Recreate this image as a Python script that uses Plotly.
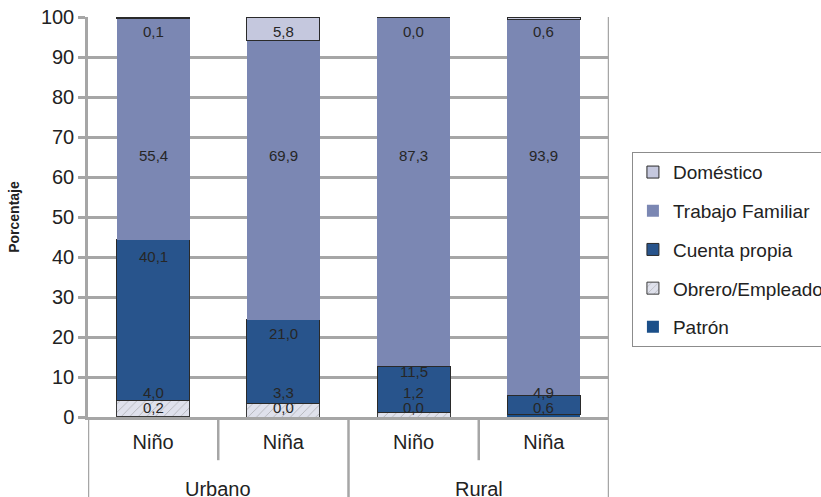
import plotly.graph_objects as go

# ---- data ----
sub_labels = ["Niño", "Niña", "Niño", "Niña"]
group_labels = ["Urbano", "Urbano", "Rural", "Rural"]
series_names = ["Patrón", "Obrero/Empleado", "Cuenta propia", "Trabajo Familiar", "Doméstico"]
patron = [0.2, 0.0, 0.0, 0.6]
obrero = [4.0, 3.3, 1.2, None]
cuenta_propia = [40.1, 21.0, 11.5, 4.9]
trabajo_familiar = [55.4, 69.9, 87.3, 93.9]
domestico = [0.1, 5.8, 0.0, 0.6]
y_ticks = [0, 10, 20, 30, 40, 50, 60, 70, 80, 90, 100]

values = [patron, obrero, cuenta_propia, trabajo_familiar, domestico]

# ---- styles ----
FONT = "Arial, Liberation Sans, sans-serif"
GRID = "#a6a6a6"
colors = ["#1b4f89", "#dfe1ec", "#28548c", "#7b87b3", "#c5c8de"]
outline = ["rgba(0,0,0,0)", "#3a3a3a", "#2a2a2a", "rgba(0,0,0,0)", "#2a2a2a"]
label_y_fixed = {"Patrón": 2.5, "Obrero/Empleado": 6.2, "Trabajo Familiar": 65.4, "Doméstico": 96.4}

xpos = list(range(len(sub_labels)))

fig = go.Figure()
for i, (name, vals) in enumerate(zip(series_names, values)):
    marker = dict(color=colors[i], line=dict(color=outline[i], width=1))
    if name == "Obrero/Empleado":
        marker["pattern"] = dict(shape="/", fgcolor="#8a8a8a", bgcolor=colors[i], size=6, solidity=0.15)
    fig.add_trace(go.Bar(
        x=xpos, y=vals, name=name, marker=marker, width=0.56,
        legendgroup=name, legendrank=len(series_names) - i, hoverinfo="skip",
    ))

# data labels
annotations = []
for name, vals in zip(series_names, values):
    for xi, v in zip(xpos, vals):
        if v is None:
            continue
        if name == "Cuenta propia":
            ly = max(v, label_y_fixed["Obrero/Empleado"])
        else:
            ly = label_y_fixed[name]
        annotations.append(dict(
            x=xi, y=ly, xref="x", yref="y", text=f"{v:.1f}".replace(".", ","),
            showarrow=False, font=dict(family=FONT, size=15, color="#262626"),
            xanchor="center", yanchor="middle",
        ))

# outer group labels
groups = []
for g in group_labels:
    if g not in groups:
        groups.append(g)
for g in groups:
    idx = [i for i, gg in enumerate(group_labels) if gg == g]
    annotations.append(dict(
        x=sum(idx) / len(idx), y=-0.18, xref="x", yref="paper", text=g,
        showarrow=False, font=dict(family=FONT, size=20, color="#222222"),
        xanchor="center", yanchor="middle",
    ))

# dividers
shapes = []
n = len(sub_labels)
for k in range(n + 1):
    xb = k - 0.5
    is_group_edge = (k == 0 or k == n or group_labels[k - 1] != group_labels[k])
    if is_group_edge:
        y0, y1 = (1.0 if k == n else 0.0), -0.25
    else:
        y0, y1 = 0.0, -0.108
    shapes.append(dict(type="line", xref="x", yref="paper", x0=xb, x1=xb, y0=y0, y1=y1,
                       line=dict(color=GRID, width=2.5), layer="above"))

fig.update_layout(
    width=821, height=497,
    margin=dict(l=88, r=212, t=17, b=80, autoexpand=False),
    barmode="stack",
    plot_bgcolor="white", paper_bgcolor="white",
    font=dict(family=FONT, color="#222222"),
    showlegend=True,
    legend=dict(
        x=1.044, y=0.662, xanchor="left", yanchor="top",
        traceorder="grouped", tracegroupgap=11,
        bordercolor="#8c8c8c", borderwidth=1, bgcolor="white",
        font=dict(family=FONT, size=19, color="#222222"),
    ),
    annotations=annotations,
    shapes=shapes,
    xaxis=dict(
        range=[-0.5, n - 0.5], tickmode="array", tickvals=xpos, ticktext=sub_labels,
        showgrid=False, zeroline=False, showline=True, linecolor=GRID, linewidth=2.5,
        ticks="", ticklabelstandoff=5, tickfont=dict(family=FONT, size=20, color="#222222"),
        fixedrange=True,
    ),
    yaxis=dict(
        range=[0, 100], tickmode="array", tickvals=y_ticks,
        showgrid=True, gridcolor=GRID, gridwidth=2.5, zeroline=False,
        showline=True, linecolor=GRID, linewidth=2.5,
        ticks="outside", ticklen=7, tickwidth=2.5, tickcolor=GRID,
        ticklabeloverflow="allow",
        tickfont=dict(family=FONT, size=20, color="#222222"),
        title=dict(text="<b>Porcentaje</b>", font=dict(family=FONT, size=14, color="#222222"), standoff=18),
        fixedrange=True,
    ),
)

# remove the page's default body margin so the figure sits at the window's corner
fig.write_html(
    "out.html",
    config={"displayModeBar": False},
    post_script="document.body.style.margin='0';document.body.style.overflow='hidden';",
)
